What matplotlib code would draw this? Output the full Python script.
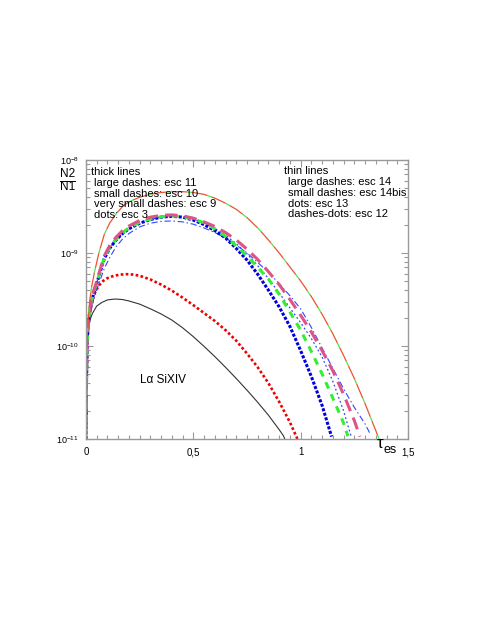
import numpy as np
import matplotlib
matplotlib.use("Agg")
import matplotlib.pyplot as plt
from matplotlib.ticker import FixedLocator, MultipleLocator, NullFormatter, LogLocator

plt.rcParams['font.family'] = ['Liberation Sans', 'DejaVu Sans']
plt.rcParams['mathtext.fontset'] = 'custom'
plt.rcParams['mathtext.rm'] = 'Liberation Sans'
plt.rcParams['mathtext.it'] = 'Liberation Sans:italic'
plt.rcParams['lines.scale_dashes'] = False

# ---- values read off the picture : optical depth tau_es and N2/N1 ----
# black solid line (no escape)
tau_0 = [0, 0.002, 0.005, 0.01, 0.02, 0.03, 0.05, 0.075, 0.1, 0.135, 0.17, 0.2, 0.25, 0.3,
         0.35, 0.4, 0.45, 0.5, 0.55, 0.6, 0.65, 0.7, 0.75, 0.8, 0.85, 0.9, 0.92, 0.93]
n_0 = [7.9e-12, 3.16e-11, 8.9e-11, 1.48e-10, 1.95e-10, 2.24e-10, 2.69e-10, 2.95e-10, 3.13e-10,
       3.2e-10, 3.16e-10, 3.05e-10, 2.82e-10, 2.51e-10, 2.21e-10, 1.9e-10, 1.57e-10, 1.26e-10,
       9.9e-11, 7.7e-11, 5.9e-11, 4.47e-11, 3.35e-11, 2.48e-11, 1.8e-11, 1.26e-11, 1.08e-11,
       9.5e-12]

# thick, very small dashes (red) : esc 9
tau_9 = [0, 0.002, 0.005, 0.01, 0.018, 0.0265, 0.035, 0.045, 0.06, 0.08, 0.1, 0.13, 0.16, 0.19,
         0.22, 0.25, 0.3, 0.35, 0.4, 0.45, 0.5, 0.55, 0.6, 0.65, 0.7, 0.75, 0.8, 0.85, 0.9, 0.95, 0.985]
n_9 = [7.9e-12, 3.16e-11, 8.9e-11, 1.58e-10, 2.29e-10, 2.82e-10, 3.39e-10, 3.89e-10, 4.47e-10,
       5.01e-10, 5.37e-10, 5.69e-10, 5.86e-10, 5.92e-10, 5.86e-10, 5.69e-10, 5.19e-10, 4.57e-10,
       3.94e-10, 3.31e-10, 2.75e-10, 2.26e-10, 1.86e-10, 1.48e-10, 1.14e-10, 8.3e-11, 5.9e-11,
       3.98e-11, 2.51e-11, 1.51e-11, 1.0e-11]

# thick dots (blue) : esc 3
tau_3 = [0, 0.002, 0.005, 0.01, 0.018, 0.0265, 0.035, 0.045, 0.06, 0.085, 0.11, 0.14, 0.17, 0.2,
         0.25, 0.3, 0.35, 0.4, 0.45, 0.5, 0.55, 0.6, 0.65, 0.7, 0.75, 0.8, 0.85, 0.9, 0.95, 1.0,
         1.05, 1.1, 1.144]
n_3 = [7.9e-12, 3.55e-11, 1.0e-10, 1.7e-10, 2.34e-10, 3.02e-10, 3.63e-10, 4.27e-10, 5.62e-10,
       8.7e-10, 1.12e-9, 1.38e-9, 1.62e-9, 1.82e-9, 2.09e-9, 2.29e-9, 2.43e-9, 2.48e-9, 2.43e-9,
       2.26e-9, 2.02e-9, 1.74e-9, 1.45e-9, 1.12e-9, 8.4e-10, 5.9e-10, 3.98e-10, 2.63e-10,
       1.62e-10, 8.9e-11, 4.68e-11, 2.29e-11, 1.06e-11]

# thick small dashes (green) : esc 10
tau_10 = [0, 0.002, 0.005, 0.01, 0.018, 0.0265, 0.035, 0.045, 0.06, 0.085, 0.11, 0.14, 0.17, 0.2,
          0.25, 0.3, 0.35, 0.4, 0.45, 0.5, 0.55, 0.6, 0.65, 0.7, 0.75, 0.8, 0.85, 0.9, 0.95, 1.0,
          1.05, 1.1, 1.15, 1.2, 1.22]
n_10 = [7.9e-12, 3.55e-11, 1.0e-10, 1.7e-10, 2.4e-10, 3.09e-10, 3.72e-10, 4.37e-10, 5.75e-10,
        8.9e-10, 1.15e-9, 1.41e-9, 1.66e-9, 1.86e-9, 2.14e-9, 2.32e-9, 2.45e-9, 2.51e-9, 2.45e-9,
        2.32e-9, 2.11e-9, 1.82e-9, 1.51e-9, 1.19e-9, 9.3e-10, 7.0e-10, 5.25e-10, 3.59e-10,
        2.32e-10, 1.48e-10, 8.7e-11, 5.0e-11, 2.75e-11, 1.48e-11, 1.07e-11]

# thick large dashes (pink) : esc 11
tau_11 = [0, 0.002, 0.005, 0.01, 0.018, 0.0265, 0.035, 0.045, 0.06, 0.085, 0.11, 0.14, 0.17, 0.2,
          0.25, 0.3, 0.35, 0.4, 0.45, 0.5, 0.55, 0.6, 0.65, 0.7, 0.75, 0.8, 0.85, 0.9, 0.95, 1.0,
          1.05, 1.1, 1.15, 1.2, 1.25, 1.276]
n_11 = [7.9e-12, 3.98e-11, 1.12e-10, 1.82e-10, 2.51e-10, 3.24e-10, 3.89e-10, 4.57e-10, 6.0e-10,
        9.3e-10, 1.2e-9, 1.48e-9, 1.74e-9, 1.95e-9, 2.24e-9, 2.43e-9, 2.54e-9, 2.57e-9, 2.51e-9,
        2.37e-9, 2.16e-9, 1.93e-9, 1.66e-9, 1.38e-9, 1.1e-9, 8.5e-10, 6.3e-10, 4.57e-10,
        3.16e-10, 2.14e-10, 1.41e-10, 8.9e-11, 5.4e-11, 3.02e-11, 1.58e-11, 1.06e-11]

# thin dots (blue) : esc 13
tau_13 = [0, 0.002, 0.005, 0.01, 0.018, 0.0265, 0.035, 0.045, 0.06, 0.085, 0.11, 0.14, 0.17, 0.2,
          0.25, 0.3, 0.35, 0.4, 0.45, 0.5, 0.55, 0.6, 0.65, 0.7, 0.75, 0.8, 0.85, 0.9, 0.95, 1.0,
          1.05, 1.1, 1.15, 1.2, 1.235]
n_13 = [7.9e-12, 3.55e-11, 1.0e-10, 1.7e-10, 2.4e-10, 3.09e-10, 3.72e-10, 4.37e-10, 5.75e-10,
        8.7e-10, 1.12e-9, 1.38e-9, 1.62e-9, 1.82e-9, 2.09e-9, 2.29e-9, 2.43e-9, 2.48e-9, 2.45e-9,
        2.32e-9, 2.11e-9, 1.84e-9, 1.55e-9, 1.26e-9, 9.8e-10, 7.3e-10, 5.3e-10, 3.72e-10,
        2.57e-10, 1.78e-10, 1.2e-10, 7.6e-11, 4.17e-11, 2.0e-11, 1.07e-11]

# thin dashes-dots (blue) : esc 12
tau_12 = [0, 0.002, 0.005, 0.01, 0.018, 0.0265, 0.035, 0.045, 0.06, 0.085, 0.11, 0.14, 0.17, 0.2,
          0.25, 0.3, 0.35, 0.4, 0.45, 0.5, 0.55, 0.6, 0.65, 0.7, 0.75, 0.8, 0.85, 0.9, 0.95, 1.0,
          1.05, 1.1, 1.15, 1.2, 1.25, 1.3, 1.325]
n_12 = [7.9e-12, 3.16e-11, 8.9e-11, 1.51e-10, 2.09e-10, 2.63e-10, 3.16e-10, 3.72e-10, 4.68e-10,
        6.8e-10, 8.9e-10, 1.17e-9, 1.41e-9, 1.62e-9, 1.91e-9, 2.09e-9, 2.19e-9, 2.21e-9, 2.16e-9,
        2.04e-9, 1.86e-9, 1.66e-9, 1.45e-9, 1.22e-9, 1.0e-9, 7.9e-10, 6.2e-10, 4.68e-10,
        3.47e-10, 2.51e-10, 1.58e-10, 9.5e-11, 5.75e-11, 3.47e-11, 2.19e-11, 1.45e-11, 1.12e-11]

# thin large dashes (orange) : esc 14, thin small dashes (green) esc 14bis lies under it
tau_14 = [0, 0.002, 0.005, 0.01, 0.018, 0.0265, 0.04, 0.06, 0.085, 0.11, 0.14, 0.17, 0.2, 0.25,
          0.3, 0.35, 0.4, 0.45, 0.5, 0.55, 0.6, 0.65, 0.7, 0.75, 0.8, 0.85, 0.9, 0.95, 1.0, 1.05,
          1.1, 1.15, 1.2, 1.25, 1.3, 1.35, 1.375]
n_14 = [7.9e-12, 5.0e-11, 1.12e-10, 2.0e-10, 3.16e-10, 4.37e-10, 6.3e-10, 1.0e-9, 1.58e-9,
        2.09e-9, 2.63e-9, 3.16e-9, 3.55e-9, 3.98e-9, 4.27e-9, 4.47e-9, 4.57e-9, 4.57e-9, 4.47e-9,
        4.27e-9, 3.89e-9, 3.43e-9, 2.95e-9, 2.4e-9, 1.86e-9, 1.38e-9, 1.0e-9, 7.08e-10, 5.0e-10,
        3.39e-10, 2.19e-10, 1.35e-10, 7.9e-11, 4.47e-11, 2.4e-11, 1.23e-11, 8.7e-12]

ytick_vals = [1e-11, 1e-10, 1e-9, 1e-8]
ytick_txt = [r'$\mathregular{10^{-11}}$', r'$\mathregular{10^{-10}}$',
             r'$\mathregular{10^{-9}}$', r'$\mathregular{10^{-8}}$']
xtick_vals = [0, 0.5, 1, 1.5]
xtick_txt = ['0', '0,5', '1', '1,5']

thick_txt = ['large dashes: esc 11', 'small dashes: esc 10',
             'very small dashes: esc 9', 'dots: esc 3']
thin_txt = ['large dashes: esc 14', 'small dashes: esc 14bis',
            'dots: esc 13', 'dashes-dots: esc 12']

fig = plt.figure(figsize=(4.91, 6.35), dpi=100)
ax = fig.add_axes([86/491, 1-439/635, 322/491, 279/635])
ax.set_yscale('log')

ax.plot(tau_0, n_0, color='#333333', lw=0.8)
ax.plot(tau_9, n_9, color='#ee0000', lw=1.9, dashes=(1.9, 1.7), dash_capstyle='butt')
ax.plot(tau_12, n_12, color='#3344ff', lw=0.8, dashes=(4.5, 2, 1, 2))
ax.plot(tau_13, n_13, color='#3344ff', lw=0.9, dashes=(1.3, 1.8))
ax.plot(tau_3, n_3, color='#0000dd', lw=2.2, dashes=(2.2, 1.2), dash_capstyle='butt')
ax.plot(tau_10, n_10, color='#33ee33', lw=2.2, dashes=(5, 4.5))
ax.plot(tau_11, n_11, color='#dd5588', lw=2.2, dashes=(9, 5))
# orange long dashes with the green line showing in the gaps
ax.plot(tau_14, n_14, color='#44ee44', lw=0.9, linestyle=(3.5, (3.5, 11)),
        dash_capstyle='butt')
ax.plot(tau_14, n_14, color='#e85530', lw=0.9, dashes=(11, 3.5), dash_capstyle='butt')

ax.set_xlim(0, 1.5)
ax.set_ylim(1e-11, 1e-8)

for s in ax.spines.values():
    s.set_color('#999999')
    s.set_linewidth(1.0)

ax.xaxis.set_major_locator(FixedLocator(xtick_vals))
ax.set_xticklabels(xtick_txt)
ax.xaxis.set_minor_locator(MultipleLocator(0.05))
ax.yaxis.set_major_locator(FixedLocator(ytick_vals))
ax.set_yticklabels(ytick_txt)
ax.yaxis.set_minor_locator(LogLocator(base=10, subs=np.arange(2, 10)))
ax.yaxis.set_minor_formatter(NullFormatter())
ax.tick_params(which='both', direction='in', top=True, right=True, color='#999999', width=0.8)
ax.tick_params(which='major', length=5)
ax.tick_params(which='minor', length=3)
ax.tick_params(axis='x', which='major', labelsize=7, pad=6)
ax.tick_params(axis='y', which='major', labelsize=6.5, pad=5)

# legend blocks
ax.text(0.015, 0.946, 'thick lines', transform=ax.transAxes, fontsize=8, va='baseline')
for i, t in enumerate(thick_txt):
    ax.text(0.024, 0.907 - i*0.0385, t, transform=ax.transAxes, fontsize=8, va='baseline')
ax.text(0.615, 0.950, 'thin lines', transform=ax.transAxes, fontsize=8, va='baseline')
for i, t in enumerate(thin_txt):
    ax.text(0.626, 0.910 - i*0.0385, t, transform=ax.transAxes, fontsize=8, va='baseline')

ax.text(0.239, 0.211, 'Lα SiXIV', transform=ax.transAxes, fontsize=8.5, ha='center', va='center')

# axis labels
fig.text(67.5/491, 1-174/635, 'N2', fontsize=8.5, ha='center', va='center')
fig.add_artist(plt.Line2D([60/491, 75/491], [1-181/635, 1-181/635], color='black', lw=0.7))
fig.text(67.5/491, 1-187/635, 'N1', fontsize=8.5, ha='center', va='center')
fig.text(380/491, 1-443/635, 'τ', fontsize=12, ha='center', va='center')
fig.text(384/491, 1-450/635, 'es', fontsize=9, ha='left', va='center')

fig.savefig('out.png', dpi=100)
